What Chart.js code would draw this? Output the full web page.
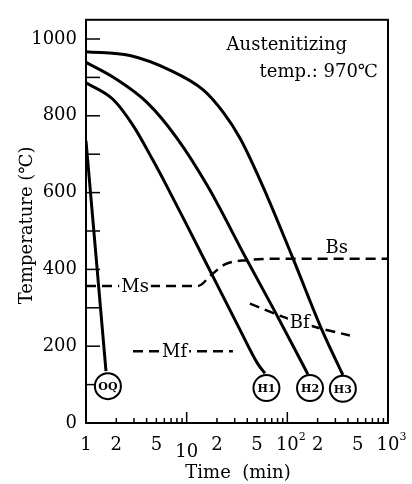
<!DOCTYPE html>
<html>
<head>
<meta charset="utf-8">
<script src="https://cdn.jsdelivr.net/npm/chart.js@4"></script>
<style>
  html, body { margin: 0; padding: 0; background: #fff; }
  canvas { display: block; }
</style>
</head>
<body>
<canvas id="myChart" width="412" height="484"></canvas>
<script>
// cooling curves, time in min, temperature in C
const oqTime = [1, 1.58];
const oqTemp = [735, 135];

const h1Time = [1, 1.85, 2.93, 4.63, 6.4, 10.1, 17.8, 33.8, 50.9, 60];
const h1Temp = [886, 843, 775, 684, 615, 514, 387, 243, 154, 129];

const h2Time = [1, 1.85, 4.03, 8.0, 16.3, 39.6, 74, 160];
const h2Temp = [939, 901, 835, 742, 615, 425, 294, 127];

const h3Time = [1, 2.73, 6.8, 14.5, 22.9, 33.8, 57.4, 114, 220, 356];
const h3Temp = [967, 957, 919, 868, 810, 742, 615, 428, 243, 125];

// transformation lines
const msBsTime = [1, 12.9, 17.8, 24, 39.6, 100, 1000];
const msBsTemp = [357, 357, 387, 413, 424, 428, 428];
const mfTime = [2.93, 28.8];
const mfTemp = [187, 187];
const bfTime = [42.5, 98.6, 201, 418];
const bfTemp = [311, 273, 248, 228];

// circled curve names
const markerNames = ["OQ", "H1", "H2", "H3"];
const markerTime = [1.65, 62, 168, 356];
const markerTemp = [96, 91, 91, 89];

// line names
const lineNames = ["Ms", "Mf", "Bf", "Bs"];
const lineNameTime = [3.07, 7.6, 133, 309];
const lineNameTemp = [357, 187, 261, 458];

// axes
const timeTicks = [1, 2, 5, 10, 20, 50, 100, 200, 500, 1000];
const timeTickText = ["1", "2", "5", "10", "2", "5", "10", "2", "5", "10"];
const timeTickSup = ["", "", "", "", "", "", "2", "", "", "3"];
const tempTicks = [0, 100, 200, 300, 400, 500, 600, 700, 800, 900, 1000];

const FONT = "'DejaVu Serif', 'Liberation Serif', serif";

function pts(xs, ys) {
  return xs.map((x, i) => ({ x: x, y: ys[i] }));
}

function curve(xs, ys) {
  return {
    type: "line",
    data: pts(xs, ys),
    borderColor: "#000",
    borderWidth: 3,
    pointRadius: 0,
    fill: false,
    cubicInterpolationMode: "monotone",
  };
}

function dashed(xs, ys) {
  return {
    type: "line",
    data: pts(xs, ys),
    borderColor: "#000",
    borderWidth: 2.5,
    borderDash: [10, 6],
    pointRadius: 0,
    fill: false,
    cubicInterpolationMode: "monotone",
  };
}

const drawExtras = {
  id: "drawExtras",
  beforeDatasetsDraw(chart) {
    const ctx = chart.ctx;
    const a = chart.chartArea;
    const xs = chart.scales.x;
    const ys = chart.scales.y;
    ctx.save();
    ctx.strokeStyle = "#000";
    ctx.lineWidth = 2;
    ctx.strokeRect(a.left, a.top, a.right - a.left, a.bottom - a.top);

    // y ticks, inward
    ctx.lineWidth = 1.5;
    tempTicks.forEach(v => {
      const y = ys.getPixelForValue(v);
      ctx.beginPath();
      ctx.moveTo(a.left, y);
      ctx.lineTo(a.left + 14, y);
      ctx.stroke();
    });

    // x ticks, inward
    for (let d = 1; d < 1000; d *= 10) {
      for (let k = 1; k < 10; k++) {
        const v = d * k;
        if (v === 1) continue;
        const x = xs.getPixelForValue(v);
        const len = k === 1 ? 11 : 5;
        ctx.beginPath();
        ctx.moveTo(x, a.bottom);
        ctx.lineTo(x, a.bottom - len);
        ctx.stroke();
      }
    }
    ctx.restore();
  },
  afterDatasetsDraw(chart) {
    const ctx = chart.ctx;
    const a = chart.chartArea;
    const xs = chart.scales.x;
    const ys = chart.scales.y;
    ctx.save();
    ctx.fillStyle = "#000";
    ctx.textBaseline = "middle";

    // x tick labels
    timeTicks.forEach((v, i) => {
      const x = xs.getPixelForValue(v);
      const txt = timeTickText[i];
      let y = a.bottom + 22;
      if (txt === "10" && !timeTickSup[i]) y += 7;
      ctx.font = "18px " + FONT;
      ctx.textAlign = "center";
      ctx.fillText(txt, x, y);
      if (timeTickSup[i]) {
        const w = ctx.measureText(txt).width;
        ctx.font = "11px " + FONT;
        ctx.textAlign = "left";
        ctx.fillText(timeTickSup[i], x + w / 2, y - 8);
      }
    });

    // axis titles
    ctx.font = "18px " + FONT;
    ctx.textAlign = "center";
    ctx.fillText("Time  (min)", 238, 473);
    ctx.save();
    ctx.translate(27, (a.top + a.bottom) / 2 + 4);
    ctx.rotate(-Math.PI / 2);
    ctx.fillText("Temperature (\u2103)", 0, 0);
    ctx.restore();

    // annotation
    ctx.textAlign = "right";
    ctx.fillText("Austenitizing", 347, 45);
    ctx.fillText("temp.: 970\u2103", 378, 72);

    // line names
    ctx.textAlign = "center";
    lineNames.forEach((t, i) => {
      const x = xs.getPixelForValue(lineNameTime[i]);
      const y = ys.getPixelForValue(lineNameTemp[i]);
      const w = ctx.measureText(t).width;
      if (t !== "Bs") {
        ctx.fillStyle = "#fff";
        ctx.fillRect(x - w / 2 - 2, y - 8, w + 4, 16);
      }
      ctx.fillStyle = "#000";
      ctx.fillText(t, x, y + 1);
    });

    // circled names
    ctx.font = "bold 11px " + FONT;
    markerNames.forEach((t, i) => {
      const x = xs.getPixelForValue(markerTime[i]);
      const y = ys.getPixelForValue(markerTemp[i]);
      ctx.fillText(t, x, y + 1);
    });
    ctx.restore();
  },
};

new Chart(document.getElementById("myChart"), {
  data: {
    datasets: [
      {
        type: "scatter",
        data: pts(markerTime, markerTemp),
        pointRadius: 13,
        pointBackgroundColor: "#fff",
        pointBorderColor: "#000",
        pointBorderWidth: 2,
        clip: false,
      },
      curve(oqTime, oqTemp),
      curve(h1Time, h1Temp),
      curve(h2Time, h2Temp),
      curve(h3Time, h3Temp),
      dashed(msBsTime, msBsTemp),
      dashed(mfTime, mfTemp),
      dashed(bfTime, bfTemp),
    ],
  },
  options: {
    responsive: false,
    devicePixelRatio: 1,
    animation: false,
    layout: { padding: { left: 0, top: 8, right: 24, bottom: 0 } },
    plugins: { legend: { display: false }, tooltip: { enabled: false } },
    scales: {
      x: {
        type: "logarithmic",
        min: 1,
        max: 1000,
        ticks: { display: false },
        grid: { display: false },
        border: { display: false },
        afterFit: s => { s.height = 61; },
      },
      y: {
        min: 0,
        max: 1050,
        afterBuildTicks: s => { s.ticks = tempTicks.map(v => ({ value: v })); },
        ticks: {
          color: "#000",
          padding: 9,
          font: { family: FONT, size: 18 },
          callback: v => (v % 200 === 0 ? v : ""),
        },
        grid: { display: false, drawTicks: false },
        border: { display: false },
        afterFit: s => { s.width = 86; },
      },
    },
  },
  plugins: [drawExtras],
});
</script>
</body>
</html>
